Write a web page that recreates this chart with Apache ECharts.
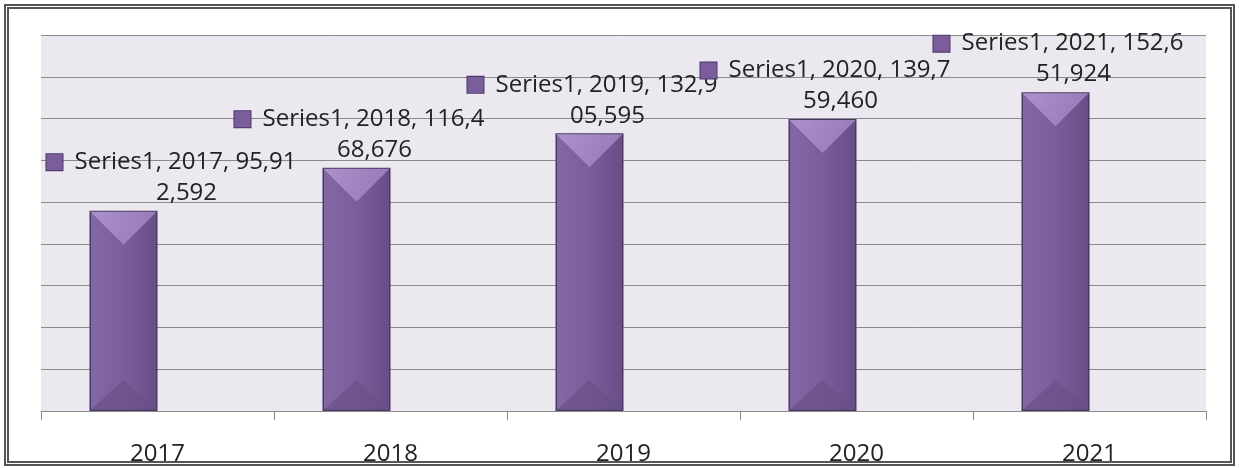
<!DOCTYPE html>
<html>
<head>
<meta charset="utf-8">
<script src="https://cdn.jsdelivr.net/npm/echarts@6/dist/echarts.min.js"></script>
<style>
  html, body { margin: 0; padding: 0; background: #fff; }
  #chart { width: 1239px; height: 468px; }
  .frame {
    position: absolute; left: 4px; top: 4px; width: 1231px; height: 462px;
    box-sizing: border-box; border: 5px double #555; pointer-events: none;
  }
</style>
</head>
<body>
<div id="chart"></div>
<div class="frame"></div>
<script>
  // values
  var years = ['2017', '2018', '2019', '2020', '2021'];
  var amounts = [95912592, 116468676, 132905595, 139759460, 152651924];
  var seriesName = 'Series1';

  var BAR_W = 68;

  function fmt(v) {
    return v.toLocaleString('en-US');
  }

  // excel-like bevel drawn on top of each bar
  function bevel(params, api) {
    var top = api.coord([api.value(0), api.value(1)]);
    var base = api.coord([api.value(0), 0]);
    var x0 = top[0] - BAR_W, x1 = top[0];
    var mid = (x0 + x1) / 2;
    var d = BAR_W / 2;
    return {
      type: 'group',
      children: [
        {
          type: 'polygon',
          shape: { points: [[x0 + 1, top[1] + 1], [x1 - 1, top[1] + 1], [mid, top[1] + d]] },
          style: {
            fill: new echarts.graphic.LinearGradient(0, 0, 1, 1, [
              { offset: 0, color: '#ad92cc' },
              { offset: 1, color: '#9476b5' }
            ])
          }
        },
        {
          type: 'polygon',
          shape: { points: [[x0 + 1, base[1] - 1], [x1 - 1, base[1] - 1], [mid, base[1] - d + 3]] },
          style: { fill: '#6a5088', opacity: 0.7 }
        }
      ]
    };
  }

  var chart = echarts.init(document.getElementById('chart'));
  var option = {
    animation: false,
    grid: {
      left: 41, right: 33, top: 35, bottom: 57,
      show: true, backgroundColor: '#ebe9ef', borderWidth: 0
    },
    xAxis: {
      type: 'category',
      data: years,
      axisLine: { lineStyle: { color: '#8a8a8a', width: 1 } },
      axisTick: { show: true, length: 9, lineStyle: { color: '#8a8a8a' } },
      axisLabel: {
        color: '#222', fontSize: 24, fontFamily: 'Open Sans', margin: 31
      }
    },
    yAxis: {
      type: 'value',
      min: 0, max: 180000000, interval: 20000000,
      axisLabel: { show: false },
      axisLine: { show: false },
      axisTick: { show: false },
      splitLine: { lineStyle: { color: '#8a8a8a', width: 1 } }
    },
    series: [
      {
        name: seriesName,
        type: 'bar',
        barWidth: BAR_W,
        barGap: '0%',
        data: amounts.map(function (v, i) {
          return { value: v, label: { offset: [i === 0 ? 48 : 3, 0] } };
        }),
        itemStyle: {
          color: new echarts.graphic.LinearGradient(0, 0, 1, 0, [
            { offset: 0, color: '#8467a5' },
            { offset: 0.5, color: '#7a5d9b' },
            { offset: 1, color: '#684d86' }
          ]),
          borderColor: '#4a3865',
          borderWidth: 1.5
        },
        label: {
          show: true,
          position: 'top',
          distance: 2,
          formatter: function (p) {
            var s = seriesName + ', ' + p.name + ', ' + fmt(p.value);
            return '{sq|}{g|}{t|' + s.slice(0, 20) + '}\n{sp|}{t|' + s.slice(20) + '}';
          },
          rich: {
            sq: { width: 16, height: 16, backgroundColor: '#7b5d9c', borderColor: '#4a3865', borderWidth: 1 },
            g: { width: 12 },
            sp: { width: 30 },
            t: { fontSize: 24, fontFamily: 'Open Sans', color: '#222', lineHeight: 31 }
          }
        },
        z: 2
      },
      {
        name: 'blank',
        type: 'bar',
        barWidth: BAR_W,
        data: years.map(function () { return '-'; })
      },
      {
        type: 'custom',
        renderItem: bevel,
        data: amounts.map(function (v, i) { return [i, v]; }),
        z: 3,
        silent: true
      }
    ]
  };
  chart.setOption(option);
</script>
</body>
</html>
